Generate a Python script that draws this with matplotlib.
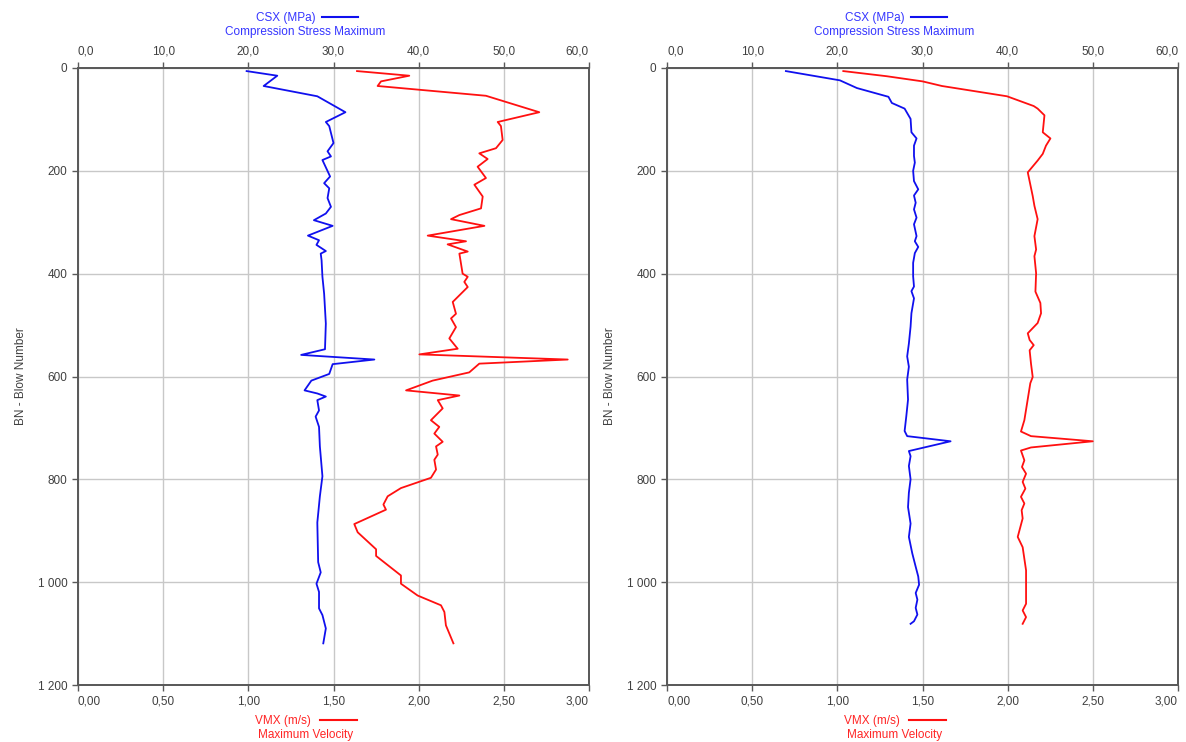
import matplotlib
matplotlib.use('Agg')
import matplotlib.pyplot as plt
from matplotlib.ticker import FuncFormatter
from matplotlib.lines import Line2D

plt.rcParams['font.family'] = ['Liberation Sans', 'DejaVu Sans']

# left log
left_csx_bn = [6, 15, 35, 55, 86, 105, 113, 146, 162, 172, 179, 211, 224, 234, 253, 270, 283, 296, 307, 326,
               335, 344, 356, 361, 374, 406, 439, 497, 547, 558, 567, 576, 595, 608, 627, 633, 639, 646, 666, 678,
               698, 736, 794, 833, 884, 961, 981, 1003, 1019, 1051, 1064, 1090, 1119]
left_csx = [19.8, 23.4, 21.8, 28.1, 31.4, 29.1, 29.5, 30.0, 29.3, 29.7, 28.7, 29.6, 28.9, 29.5, 29.3, 29.7, 29.1, 27.7, 29.9, 27.0,
            28.3, 28.0, 29.1, 28.5, 28.6, 28.7, 28.9, 29.1, 29.0, 26.2, 34.8, 29.9, 29.5, 27.4, 26.6, 28.1, 29.1, 28.1, 28.3, 27.9,
            28.3, 28.4, 28.7, 28.4, 28.1, 28.2, 28.5, 28.0, 28.3, 28.3, 28.7, 29.1, 28.8]

left_vmx_bn = [6, 15, 26, 35, 54, 86, 105, 113, 140, 156, 166, 177, 192, 214, 227, 250, 273, 286, 294, 307,
               326, 337, 343, 357, 361, 400, 406, 416, 426, 455, 478, 487, 504, 526, 546, 557, 567, 575, 592, 608,
               627, 637, 646, 662, 685, 698, 711, 727, 736, 752, 762, 781, 797, 807, 817, 833, 849, 859, 884, 887,
               903, 936, 949, 987, 1003, 1026, 1045, 1058, 1084, 1119]
left_vmx = [1.638, 1.945, 1.779, 1.759, 2.395, 2.708, 2.464, 2.483, 2.493, 2.454, 2.356, 2.405, 2.346, 2.395, 2.327, 2.376, 2.366, 2.239, 2.190, 2.386,
            2.053, 2.278, 2.170, 2.288, 2.239, 2.258, 2.288, 2.268, 2.288, 2.200, 2.219, 2.190, 2.219, 2.180, 2.229, 2.004, 2.875, 2.356, 2.297, 2.082,
            1.926, 2.239, 2.112, 2.141, 2.072, 2.121, 2.092, 2.141, 2.102, 2.112, 2.092, 2.102, 2.072, 1.984, 1.896, 1.818, 1.793, 1.808, 1.642, 1.622,
            1.642, 1.750, 1.750, 1.896, 1.896, 1.994, 2.131, 2.151, 2.160, 2.204]

# right log
right_csx_bn = [6, 24, 39, 56, 68, 79, 99, 125, 137, 151, 171, 184, 200, 220, 236, 248, 262, 275, 291, 304,
                327, 337, 348, 360, 379, 405, 425, 434, 448, 477, 503, 536, 561, 581, 606, 645, 677, 706, 716, 726,
                745, 755, 774, 800, 826, 854, 886, 912, 944, 970, 989, 1005, 1021, 1034, 1050, 1063, 1076, 1081]
right_csx = [13.96, 20.3, 22.3, 26.0, 26.4, 27.9, 28.6, 28.7, 29.3, 29.0, 29.0, 29.1, 28.9, 29.0, 29.5, 29.0, 29.2, 29.0, 29.3, 29.0,
             29.3, 29.1, 29.5, 29.1, 28.9, 28.9, 29.0, 28.7, 29.0, 28.7, 28.6, 28.4, 28.2, 28.4, 28.2, 28.3, 28.1, 27.9, 28.2, 33.3,
             28.4, 28.6, 28.4, 28.6, 28.4, 28.3, 28.6, 28.4, 28.8, 29.2, 29.5, 29.6, 29.2, 29.4, 29.2, 29.4, 29.0, 28.6]

right_vmx_bn = [6, 16, 26, 35, 55, 74, 79, 92, 125, 137, 151, 167, 180, 203, 249, 268, 294, 327, 353, 366,
                399, 435, 457, 477, 496, 516, 529, 539, 549, 575, 601, 613, 685, 707, 716, 726, 738, 744, 763, 776,
                789, 805, 818, 834, 847, 860, 876, 912, 932, 977, 1042, 1055, 1068, 1081]
right_vmx = [1.035, 1.290, 1.500, 1.614, 1.996, 2.153, 2.176, 2.216, 2.206, 2.251, 2.225, 2.206, 2.176, 2.118, 2.147, 2.157, 2.176, 2.157, 2.167, 2.157,
             2.167, 2.163, 2.192, 2.196, 2.176, 2.118, 2.129, 2.153, 2.129, 2.137, 2.147, 2.133, 2.098, 2.078, 2.137, 2.500, 2.137, 2.078, 2.098, 2.084,
             2.108, 2.088, 2.104, 2.078, 2.098, 2.082, 2.088, 2.059, 2.088, 2.108, 2.108, 2.088, 2.108, 2.088]

csx_ticks = [0, 10, 20, 30, 40, 50, 60]
vmx_ticks = [0, 0.5, 1.0, 1.5, 2.0, 2.5, 3.0]
bn_ticks = [0, 200, 400, 600, 800, 1000, 1200]

W, H = 1186, 742
fig = plt.figure(figsize=(W / 100, H / 100), dpi=100)

frame_col = '#5a5a5a'
text_col = '#404040'
grid_col = '#c8c8c8'
blue = '#1010ee'
red = '#ff1010'


def comma_fmt(nd):
    return FuncFormatter(lambda v, p: f"{v:.{nd}f}".replace('.', ','))


def style_axis(a):
    for s in a.spines.values():
        s.set_color(frame_col)
        s.set_linewidth(1.3)
    a.tick_params(colors=frame_col, labelcolor=text_col, labelsize=8.5, length=4, width=1)


def draw_log(x0, csx_bn, csx, vmx_bn, vmx):
    ax = fig.add_axes([x0 / W, 1 - 685 / H, 511 / W, 617 / H])
    ax.set_xlim(0, 3.0)
    ax.set_ylim(1200, 0)
    ax.set_xticks(vmx_ticks)
    ax.set_yticks(bn_ticks)
    ax.xaxis.set_major_formatter(comma_fmt(2))
    ax.yaxis.set_major_formatter(FuncFormatter(lambda v, p: f"{int(v):,}".replace(',', ' ')))
    ax.grid(True, color=grid_col, linewidth=1)
    ax.set_axisbelow(True)
    style_axis(ax)
    ax.set_ylabel('BN - Blow Number', fontsize=8.5, color=text_col, labelpad=8)
    ax.plot(vmx, vmx_bn, color=red, lw=1.3, zorder=3)

    top = ax.twiny()
    top.set_xlim(0, 60)
    top.set_xticks(csx_ticks)
    top.xaxis.set_major_formatter(comma_fmt(1))
    style_axis(top)
    top.plot(csx, csx_bn, color=blue, lw=1.3, zorder=3)

    for a in (ax, top):
        labs = a.get_xticklabels()
        labs[0].set_ha('left')
        labs[-1].set_ha('right')

    # legend-like captions above and below
    cx = x0 + 230
    fig.text((cx - 22) / W, 1 - 18 / H, 'CSX (MPa)', color='#3535ff', fontsize=8.5, ha='center', va='center')
    fig.add_artist(Line2D([(cx + 14) / W, (cx + 50) / W], [1 - 17 / H, 1 - 17 / H], color=blue, lw=1.5))
    fig.text((cx - 3) / W, 1 - 32 / H, 'Compression Stress Maximum', color='#3535ff', fontsize=8.5, ha='center', va='center')
    fig.text((cx - 25) / W, 1 - 721 / H, 'VMX (m/s)', color='#ff2525', fontsize=8.5, ha='center', va='center')
    fig.add_artist(Line2D([(cx + 12) / W, (cx + 49) / W], [1 - 720 / H, 1 - 720 / H], color=red, lw=1.5))
    fig.text((cx - 2) / W, 1 - 735 / H, 'Maximum Velocity', color='#ff2525', fontsize=8.5, ha='center', va='center')


draw_log(78, left_csx_bn, left_csx, left_vmx_bn, left_vmx)
draw_log(667, right_csx_bn, right_csx, right_vmx_bn, right_vmx)

fig.savefig('out.png', dpi=100)
